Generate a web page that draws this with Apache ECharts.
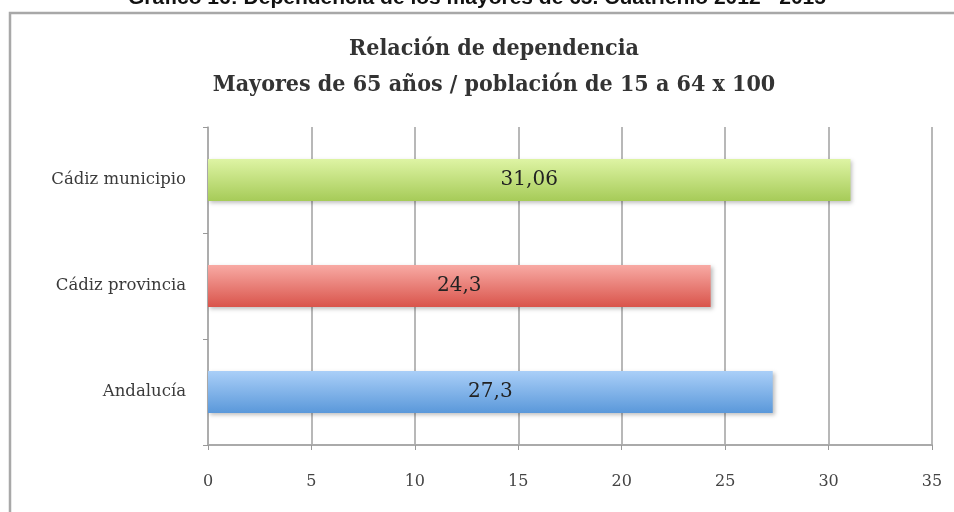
<!DOCTYPE html>
<html>
<head>
<meta charset="utf-8">
<script src="https://cdn.jsdelivr.net/npm/echarts@6/dist/echarts.min.js"></script>
<style>
  html, body { margin: 0; padding: 0; background: #fff; }
  #chart { width: 954px; height: 512px; }
</style>
</head>
<body>
<div id="chart"></div>
<script>
// data
const categories = ['Andalucía', 'Cádiz provincia', 'Cádiz municipio']
const values = [27.3, 24.3, 31.06]
const valueLabels = ['27,3', '24,3', '31,06']
const xTicks = [0, 5, 10, 15, 20, 25, 30, 35]

const barColors = [
  ['#aacff8', '#5a98da'],
  ['#f8aaa4', '#d9544b'],
  ['#def4a4', '#a6cb58']
]

const serifCond = '"DejaVu Serif Condensed", "DejaVu Serif", serif'
const serif = '"DejaVu Serif", serif'

const chart = echarts.init(document.getElementById('chart'))

chart.setOption({
  backgroundColor: '#fff',
  animation: false,
  graphic: [
    {
      type: 'rect',
      shape: { x: 10, y: 13, width: 960, height: 520 },
      style: { fill: 'none', stroke: '#a8a8a8', lineWidth: 2.5 }
    },
    {
      type: 'text',
      left: 'center',
      top: -12,
      style: {
        text: 'Gráfico 16: Dependencia de los mayores de 65. Cuatrienio 2012 - 2015',
        font: 'bold 21px "Liberation Sans", Arial, sans-serif',
        fill: '#111'
      }
    }
  ],
  title: {
    text: 'Relación de dependencia\nMayores de 65 años / población de 15 a 64 x 100',
    left: 489,
    textAlign: 'center',
    top: 26,
    textStyle: {
      fontFamily: serifCond,
      fontSize: 23,
      fontWeight: 'bold',
      color: '#333',
      lineHeight: 36
    }
  },
  grid: {
    left: 208,
    right: 22,
    top: 127,
    bottom: 67
  },
  xAxis: {
    type: 'value',
    min: 0,
    max: 35,
    interval: 5,
    axisLine: { show: true, lineStyle: { color: '#aaa', width: 2 } },
    axisTick: { show: true, length: 5, lineStyle: { color: '#999' } },
    axisLabel: {
      fontFamily: serif,
      fontSize: 16,
      color: '#444',
      margin: 29,
      formatter: v => xTicks.includes(v) ? String(v) : ''
    },
    splitLine: { show: true, lineStyle: { color: '#a0a0a0', width: 1.5 } }
  },
  yAxis: {
    type: 'category',
    data: categories,
    axisLine: { show: true, lineStyle: { color: '#aaa', width: 1.5 } },
    axisTick: { show: true, length: 5, lineStyle: { color: '#999' } },
    axisLabel: {
      fontFamily: serif,
      fontSize: 16.5,
      color: '#3a3a3a',
      margin: 22
    }
  },
  series: [{
    type: 'bar',
    barWidth: 42,
    data: values.map((v, i) => ({
      value: v,
      itemStyle: {
        color: new echarts.graphic.LinearGradient(0, 0, 0, 1, [
          { offset: 0, color: barColors[i][0] },
          { offset: 1, color: barColors[i][1] }
        ]),
        shadowColor: 'rgba(0,0,0,0.25)',
        shadowBlur: 4,
        shadowOffsetX: 2,
        shadowOffsetY: 2
      },
      label: {
        show: true,
        position: 'inside',
        formatter: valueLabels[i],
        fontFamily: serif,
        fontSize: 20,
        color: '#222'
      }
    }))
  }]
})
</script>
</body>
</html>
